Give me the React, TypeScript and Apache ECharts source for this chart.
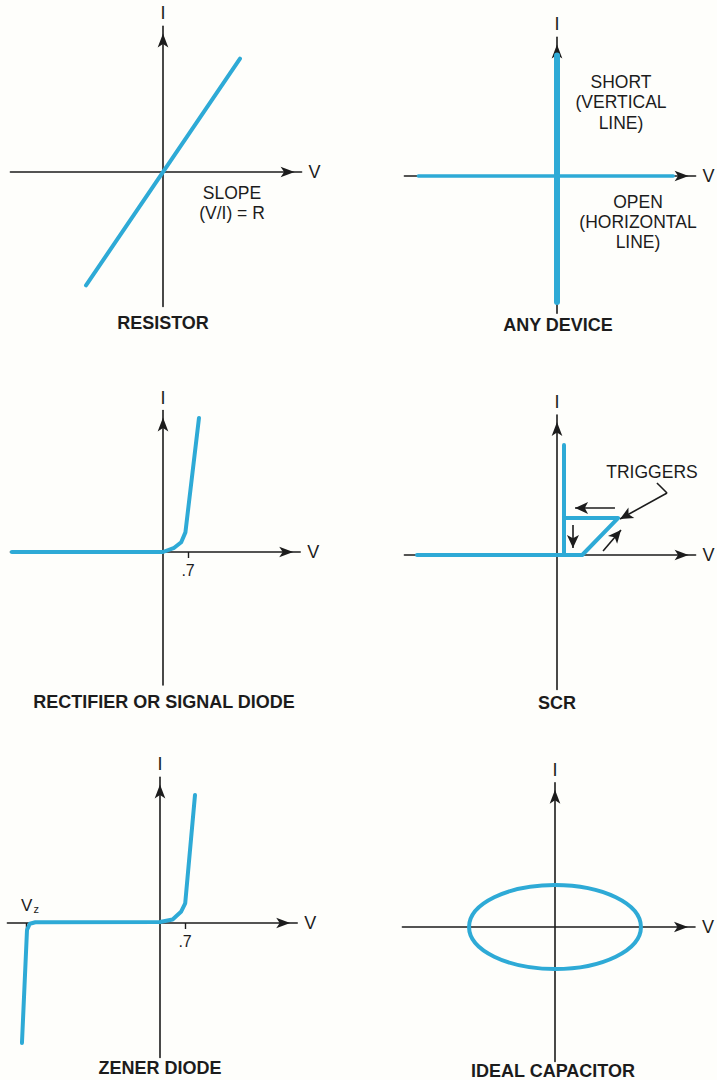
import React, { useEffect, useRef } from "react";
import * as echarts from "echarts";

// ---------- data (arbitrary V / I units) ----------
const resistorCurve = [[-5.5, -8.1], [5.5, 8.1]];
const shortLine = [[0, 8.6], [0, -9.0]];
const openLine = [[-9.9, 0], [8.3, 0]];
const diodeCurve = [[-10.8, 0], [0, 0], [0.8, 0.3], [1.3, 0.7], [1.6, 1.4], [2.57, 9.57]];
const scrPath = [[-10.0, 0], [1.8, 0], [4.36, 2.64], [0.5, 2.64], [0.5, 7.86]];
const scrOnLine = [[0.5, 0], [0.5, 2.64]];
const scrLeftArrow = [[4.14, 3.36], [1.29, 3.36]];
const scrDownArrow = [[1.14, 2.14], [1.14, 0.5]];
const scrUpArrow = [[3.29, 0.29], [4.57, 1.79]];
const scrPointer = [[7.14, 5.14], [7.86, 4.43], [4.5, 2.57]];
const zenerCurve = [[-9.86, -8.57], [-9.5, -0.5], [-9.3, -0.05], [-8.9, 0.05], [0, 0.07], [0.9, 0.25], [1.5, 0.8], [1.8, 1.4], [2.5, 9.14]];
const capacitorEllipse = [[0, 0, 6.14, 3.0]];
const kneeTick = [1.79];
const kneeLabel = ".7";
const zenerTick = [-9.57];
const titles = ["RESISTOR", "ANY DEVICE", "RECTIFIER OR SIGNAL DIODE", "SCR", "ZENER DIODE", "IDEAL CAPACITOR"];

// ---------- layout ----------
const S = 14; // px per unit
const panels = [
  { ox: 163, oy: 172, x: [-10.9, 9.9], y: [-9.6, 10.4] },
  { ox: 557, oy: 176, x: [-10.9, 9.9], y: [-9.8, 9.9] },
  { ox: 163, oy: 552, x: [-10.9, 9.8], y: [-9.5, 10.1] },
  { ox: 557, oy: 555, x: [-10.9, 9.9], y: [-9.6, 10.0] },
  { ox: 160, oy: 923, x: [-10.9, 9.8], y: [-9.6, 10.4] },
  { ox: 555, oy: 927, x: [-10.9, 10.0], y: [-9.6, 10.3] },
];
const titlePos = [[163, 323], [558, 325], [164, 702], [557, 703], [160, 1068], [553, 1071]];

const BLUE = "#2eaad6";
const INK = "#1c1c1c";
const FONT = "'Liberation Sans', Arial, Helvetica, sans-serif";

function buildOption() {
  const grid = panels.map((p) => ({
    left: p.ox + p.x[0] * S,
    top: p.oy - p.y[1] * S,
    width: (p.x[1] - p.x[0]) * S,
    height: (p.y[1] - p.y[0]) * S,
    containLabel: false,
    outerBoundsMode: "none",
  }));
  const axisLine = {
    show: true,
    onZero: true,
    symbol: ["none", "arrow"],
    symbolSize: [8, 14],
    symbolOffset: [0, -7],
    lineStyle: { color: INK, width: 1.6 },
  };
  const xAxis = panels.map((p, i) => {
    const ticks = i === 2 ? kneeTick : i === 4 ? [...zenerTick, ...kneeTick] : [];
    return {
      type: "value",
      gridIndex: i,
      min: p.x[0],
      max: p.x[1],
      name: "V",
      nameLocation: "end",
      nameGap: 7,
      nameTextStyle: { fontSize: 18, color: INK, fontFamily: FONT, verticalAlign: "middle" },
      axisLine,
      splitLine: { show: false },
      axisTick: ticks.length
        ? { show: true, customValues: ticks, length: 6, lineStyle: { color: INK, width: 1.4 } }
        : { show: false },
      axisLabel: { show: false },
    };
  });
  const yAxis = panels.map((p, i) => ({
    type: "value",
    gridIndex: i,
    min: p.y[0],
    max: p.y[1],
    name: "I",
    nameLocation: "end",
    nameGap: 4,
    nameTextStyle: { fontSize: 18, color: INK, fontFamily: FONT },
    axisLine,
    splitLine: { show: false },
    axisTick: { show: false },
    axisLabel: { show: false },
  }));

  const kneeMark = {
    silent: true,
    symbol: "circle",
    symbolSize: 0,
    data: kneeTick.map((v) => ({
      coord: [v, 0],
      label: {
        show: true,
        position: "bottom",
        distance: 10,
        formatter: kneeLabel,
        fontSize: 16,
        color: INK,
        fontFamily: FONT,
      },
    })),
  };

  const curve = (idx: number, data: number[][], width = 4, extra: any = {}) => ({
    type: "line",
    xAxisIndex: idx,
    yAxisIndex: idx,
    data,
    showSymbol: false,
    symbol: "none",
    silent: true,
    lineStyle: { color: BLUE, width, cap: "round", join: "round" },
    z: 5,
    ...extra,
  });

  const arrowLine = (pts: number[][]) => {
    const segs: any[] = [];
    for (let k = 0; k < pts.length - 1; k++) {
      const last = k === pts.length - 2;
      segs.push([
        { coord: pts[k], symbol: "none" },
        { coord: pts[k + 1], symbol: last ? "arrow" : "none" },
      ]);
    }
    return segs;
  };

  const series: any[] = [
    curve(0, resistorCurve, 4),
    curve(1, shortLine, 6),
    curve(1, openLine, 3.5),
    curve(2, diodeCurve, 4, { markPoint: kneeMark }),
    curve(3, scrPath, 4, {
      markLine: {
        silent: true,
        symbolSize: [9, 13],
        label: { show: false },
        lineStyle: { color: INK, width: 1.6, type: "solid" },
        data: [
          ...arrowLine(scrLeftArrow),
          ...arrowLine(scrDownArrow),
          ...arrowLine(scrUpArrow),
          ...arrowLine(scrPointer),
        ],
      },
    }),
    curve(3, scrOnLine, 4),
    curve(4, zenerCurve, 4, { markPoint: kneeMark }),
    {
      type: "custom",
      xAxisIndex: 5,
      yAxisIndex: 5,
      data: capacitorEllipse,
      silent: true,
      clip: false,
      z: 5,
      renderItem: (_params: any, api: any) => {
        const c = api.coord([api.value(0), api.value(1)]);
        const s = api.size([api.value(2), api.value(3)]);
        return {
          type: "ellipse",
          shape: { cx: c[0], cy: c[1], rx: s[0], ry: s[1] },
          style: { fill: "none", stroke: BLUE, lineWidth: 4 },
        };
      },
    },
  ];

  const txt = (x: number, y: number, text: string, size = 17.5, weight: any = "normal", lineHeight = 20) => ({
    type: "text",
    x,
    y,
    z: 10,
    silent: true,
    style: {
      text,
      fill: INK,
      fontSize: size,
      fontWeight: weight,
      fontFamily: FONT,
      lineHeight,
      align: "center",
      verticalAlign: "middle",
      textAlign: "center",
      textVerticalAlign: "middle",
    },
  });

  const graphic: any[] = [
    ...titles.map((t, i) => txt(titlePos[i][0], titlePos[i][1], t, 18, "bold")),
    txt(232, 193, "SLOPE"),
    txt(232, 213, "(V/I) = R"),
    txt(621, 102, "SHORT\n(VERTICAL\nLINE)", 17.5, "normal", 20.5),
    txt(638, 222, "OPEN\n(HORIZONTAL\nLINE)", 17.5, "normal", 20),
    txt(652, 472, "TRIGGERS"),
    {
      type: "text",
      x: 30,
      y: 905,
      z: 10,
      silent: true,
      style: {
        text: "{v|V}{z|z}",
        align: "center",
        verticalAlign: "middle",
        textAlign: "center",
        textVerticalAlign: "middle",
        rich: {
          v: { fontSize: 17, fill: INK, color: INK, fontFamily: FONT },
          z: { fontSize: 11, fill: INK, color: INK, fontFamily: FONT, padding: [8, 0, 0, 1] },
        },
      },
    },
  ];

  return {
    animation: false,
    backgroundColor: "#fefefb",
    textStyle: { fontFamily: FONT },
    grid,
    xAxis,
    yAxis,
    series,
    graphic,
  };
}

export default function App() {
  const ref = useRef<HTMLDivElement>(null);
  useEffect(() => {
    if (!ref.current) return;
    const chart = echarts.init(ref.current, null, { renderer: "svg" });
    chart.setOption(buildOption() as any);
    return () => chart.dispose();
  }, []);
  return (
    <div
      ref={ref}
      style={{ position: "absolute", left: 0, top: 0, width: 717, height: 1080, background: "#fefefb" }}
    />
  );
}
